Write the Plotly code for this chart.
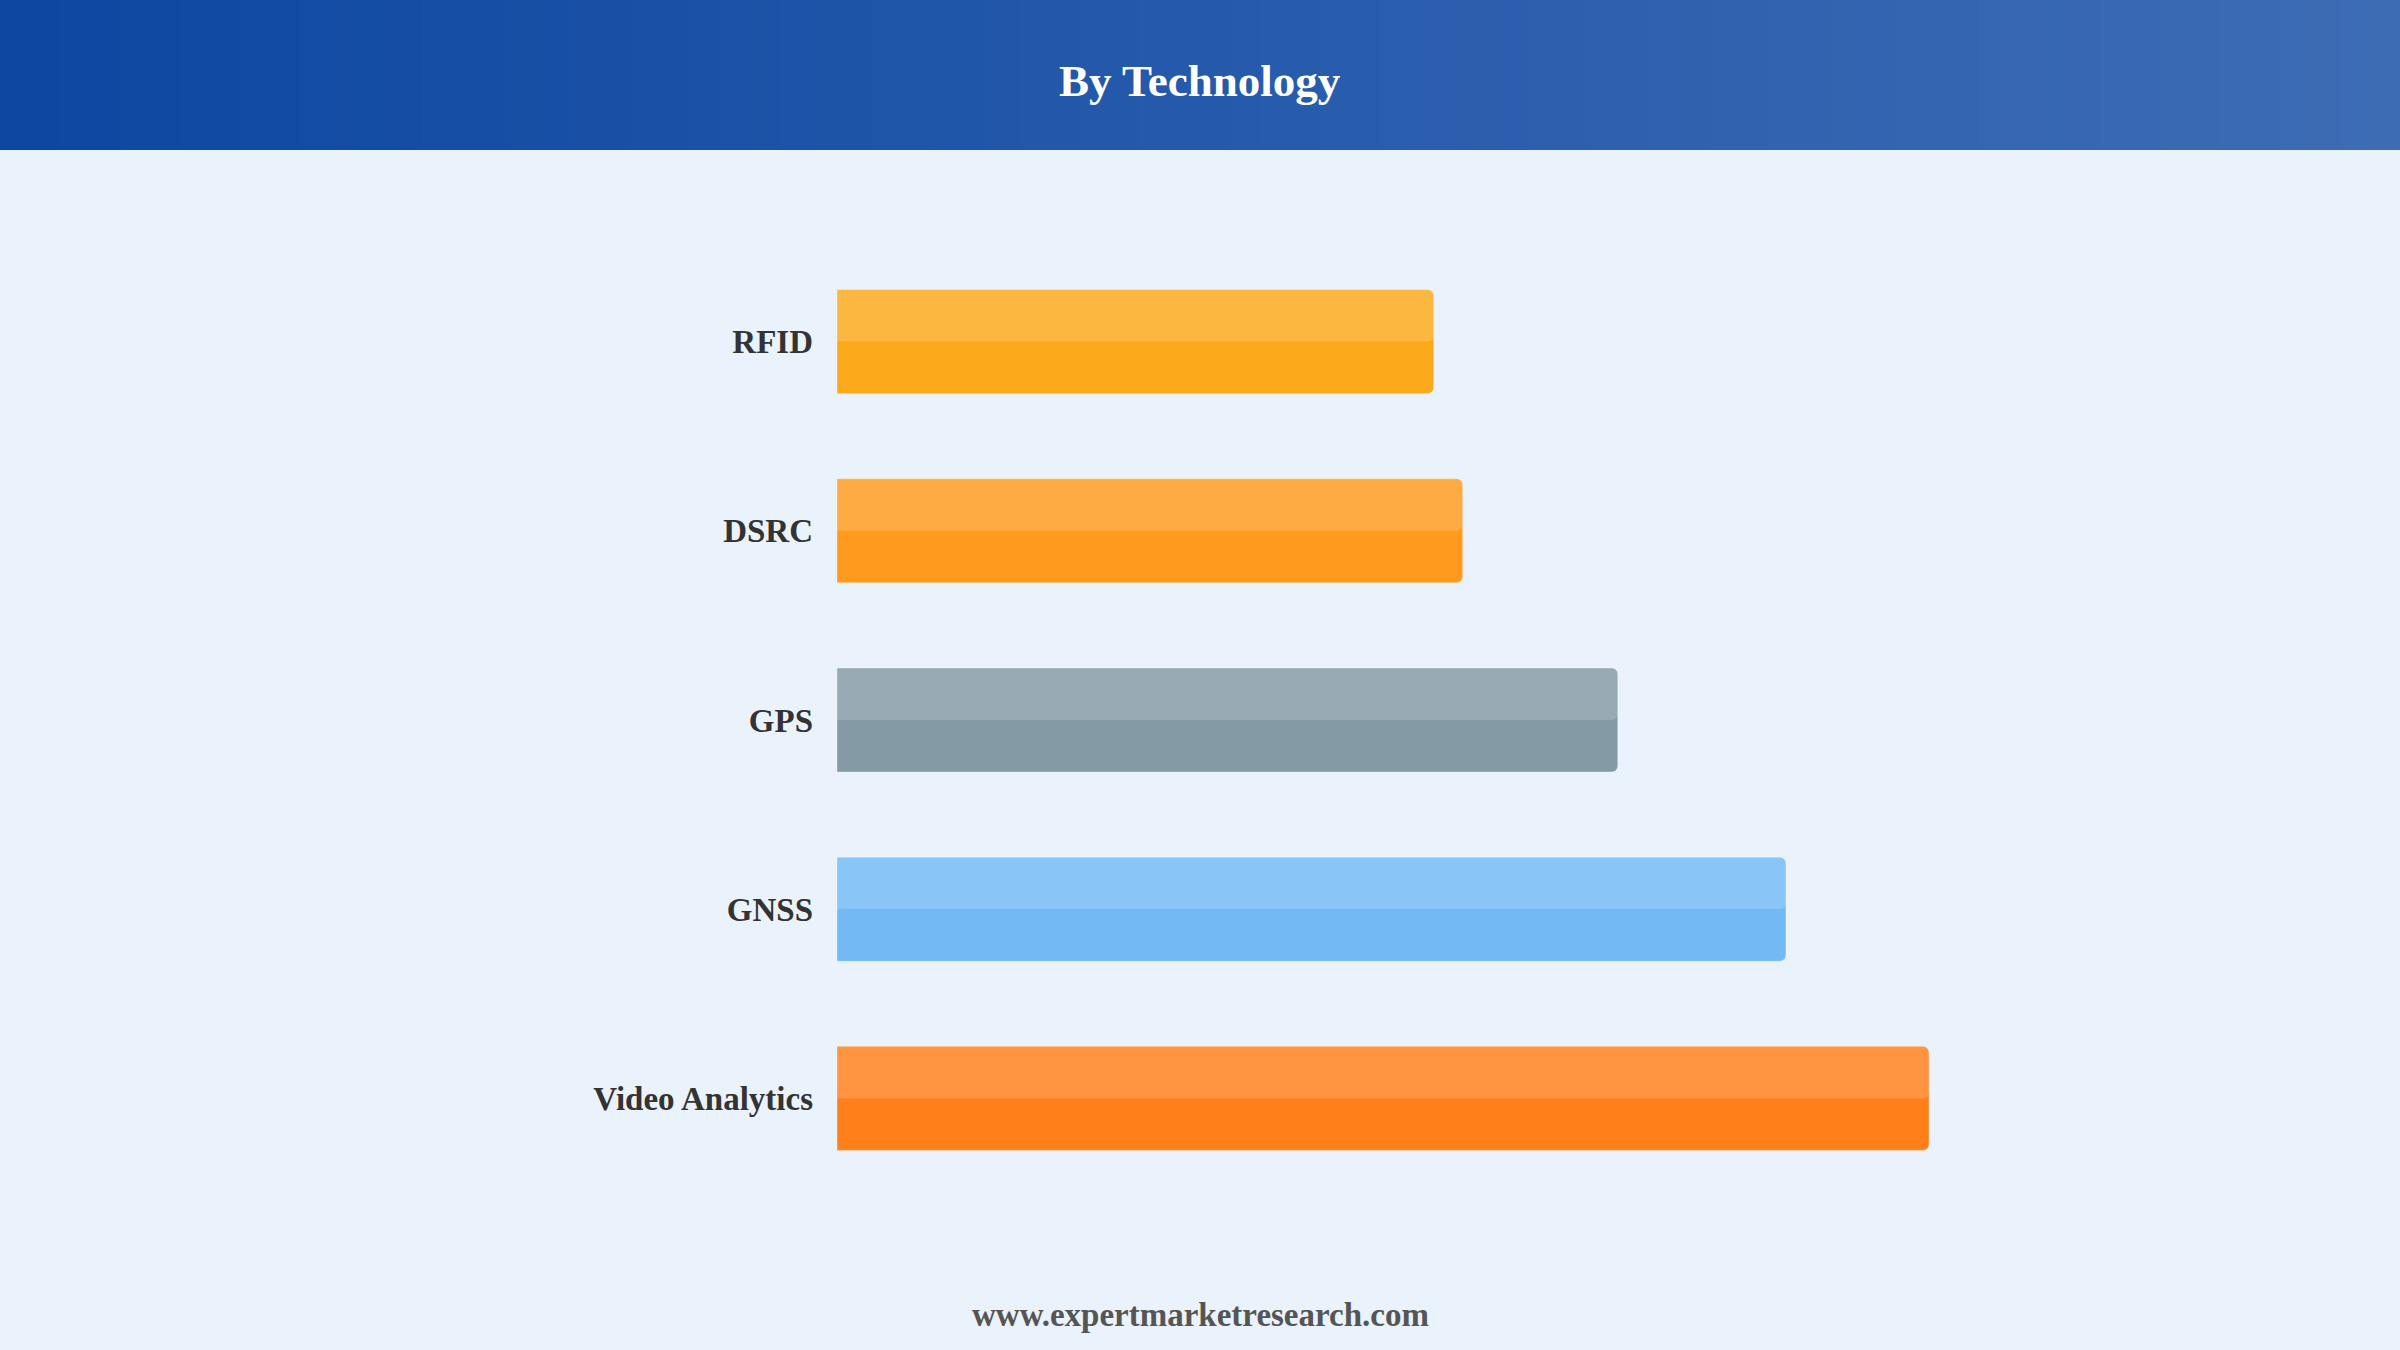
import plotly.graph_objects as go

# ---- data ----
categories = ["RFID", "DSRC", "GPS", "GNSS", "Video Analytics"]
values = [10.93, 11.46, 14.30, 17.38, 20.0]
bar_colors = ["#FBA91A", "#FF9A1E", "#849BA6", "#71BAF4", "#FF7F1B"]
title_text = "By Technology"
footer_text = "www.expertmarketresearch.com"

W, H = 2400, 1350
ML, MR, MT, MB = 837, 471, 247, 157
PH = H - MT - MB


def py(p):
    """pixel row -> paper y"""
    return (H - MB - p) / PH


def px(p):
    """pixel col -> paper x"""
    return (p - ML) / (W - ML - MR)


fig = go.Figure()

# main bars
fig.add_trace(go.Bar(
    y=categories, x=values, orientation="h",
    marker=dict(color=bar_colors, cornerradius=6,
                line=dict(color="rgba(255,255,255,0.35)", width=1)),
    width=0.55, hoverinfo="x+y", showlegend=False,
))
# top-half highlight
fig.add_trace(go.Bar(
    y=categories, x=values, orientation="h",
    marker=dict(color="rgba(255,255,255,0.17)", cornerradius=6, line=dict(width=0)),
    width=0.275, offset=-0.275, hoverinfo="skip", showlegend=False,
))

# header gradient
shapes = []
left = (13, 71, 161)
right = (61, 108, 181)
N = 80
for i in range(N):
    t = i / (N - 1)
    c = tuple(round(left[k] + (right[k] - left[k]) * t) for k in range(3))
    shapes.append(dict(
        type="rect", xref="paper", yref="paper",
        x0=px(i * W / N), x1=px((i + 1) * W / N + 1),
        y0=py(150), y1=py(0),
        fillcolor="rgb(%d,%d,%d)" % c, line=dict(width=0), layer="below",
    ))

fig.update_layout(
    width=W, height=H,
    margin=dict(l=ML, r=MR, t=MT, b=MB),
    paper_bgcolor="#EAF2FB", plot_bgcolor="#EAF2FB",
    barmode="overlay",
    shapes=shapes,
    xaxis=dict(range=[0, 20], visible=False, showgrid=False, zeroline=False, fixedrange=True),
    yaxis=dict(range=[4.5, -0.5], showgrid=False, zeroline=False, showline=False,
               ticks="", ticklabelstandoff=23,
               tickfont=dict(family="Liberation Serif", size=33, color="#333333", weight="bold")),
    font=dict(family="Liberation Serif"),
    annotations=[
        dict(text="<b>%s</b>" % title_text, xref="paper", yref="paper",
             x=px(1200), y=py(81), xanchor="center", yanchor="middle", showarrow=False,
             font=dict(family="Liberation Serif", size=45, color="white")),
        dict(text="<b>%s</b>" % footer_text, xref="paper", yref="paper",
             x=px(1200), y=py(1315), xanchor="center", yanchor="middle", showarrow=False,
             font=dict(family="Liberation Serif", size=33, color="#555555")),
    ],
)

fig.write_html("out.html", config={"displayModeBar": False},
               post_script="document.body.style.margin='0';document.body.style.background='#EAF2FB';")
